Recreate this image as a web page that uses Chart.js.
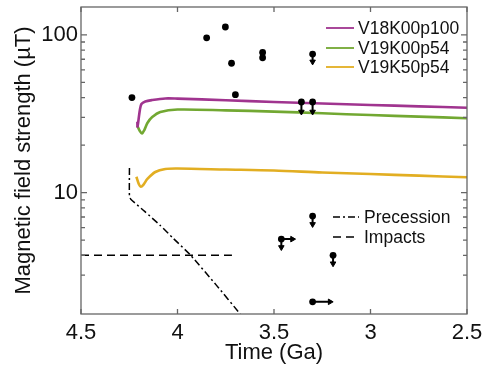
<!DOCTYPE html>
<html><head><meta charset="utf-8">
<script src="https://cdn.jsdelivr.net/npm/chart.js@4/dist/chart.umd.min.js"></script>
<style>html,body{margin:0;padding:0;background:#fff}#w{width:482px;height:372px}</style>
</head><body><div id="w"><canvas id="c" width="482" height="372"></canvas></div>
<script>
// ---- data ----
const xTicks = [4.5, 4, 3.5, 3, 2.5];
const yLabelTicks = [10, 100];
const seriesNames = ['V18K00p100', 'V19K00p54', 'V19K50p54'];
const seriesColors = ['#A0348F', '#72A832', '#E2AE22'];

const purpleX = [4.208, 4.207, 4.195, 4.187, 4.167, 4.131, 4.063, 4.0, 3.75, 3.5, 3.25, 3.0, 2.75, 2.5];
const purpleY = [28.1, 26.2, 33.4, 36.4, 37.8, 38.6, 39.5, 39.4, 38.5, 37.5, 36.7, 35.9, 35.2, 34.5];
const greenX = [4.208, 4.195, 4.184, 4.172, 4.156, 4.131, 4.089, 4.0, 3.75, 3.5, 3.25, 3.0, 2.75, 2.5];
const greenY = [26.5, 24.5, 23.7, 24.9, 27.6, 30.1, 32.4, 33.6, 33.2, 32.6, 31.8, 31.0, 30.3, 29.6];
const goldX = [4.213, 4.2, 4.19, 4.177, 4.156, 4.115, 4.063, 4.0, 3.75, 3.5, 3.25, 3.0, 2.75, 2.5];
const goldY = [12.6, 11.3, 10.9, 11.2, 12.2, 13.5, 14.1, 14.2, 14.0, 13.8, 13.4, 13.1, 12.8, 12.5];

const precessionX = [4.249, 4.249, 4.242, 4.17, 4.09, 4.02, 3.934, 3.80, 3.675];
const precessionY = [14.3, 9.5, 9.08, 7.6, 6.2, 5.1, 4.03, 2.6, 1.70];
const impactsX = [4.5, 3.718];
const impactsY = [4.0, 4.0];

const dotX = [4.236, 3.849, 3.752, 3.72, 3.70, 3.559, 3.559, 3.30, 3.358, 3.30, 3.30, 3.462, 3.194, 3.30];
const dotY = [40, 95.7, 112, 66, 41.7, 77.3, 71.5, 75.5, 37.5, 37.5, 7.1, 5.07, 4.0, 2.03];

// bars
const barFromX = [3.559, 3.30, 3.358, 3.30, 3.30, 3.462, 3.194, 3.462, 3.30];
const barFromY = [77.3, 75.5, 37.5, 37.5, 7.1, 5.07, 4.0, 5.07, 2.03];
const barToX   = [3.559, 3.30, 3.358, 3.30, 3.30, 3.462, 3.194, 3.40, 3.205];
const barToY   = [71.5, 67.5, 32.5, 32.5, 6.3, 4.5, 3.55, 5.07, 2.03];
// arrow heads
const headX = [3.30, 3.358, 3.30, 3.30, 3.462, 3.194, 3.405, 3.21];
const headY = [67.5, 32.5, 32.5, 6.3, 4.5, 3.55, 5.07, 2.03];
const headDir = ['down', 'down', 'down', 'down', 'down', 'down', 'right', 'right'];

// ---- build ----
const pts = (xs, ys) => xs.map((x, i) => ({x: x, y: ys[i]}));
const barData = [];
barFromX.forEach((x, i) => {
  barData.push({x: x, y: barFromY[i]});
  barData.push({x: barToX[i], y: barToY[i]});
  barData.push({x: barToX[i], y: null});
});

const FONT = '"Liberation Sans", Arial, Helvetica, sans-serif';

const framePlugin = {
  id: 'frame',
  afterDraw(chart) {
    const {ctx, chartArea: a, scales} = chart;
    ctx.save();
    ctx.strokeStyle = '#666';
    ctx.lineWidth = 1.3;
    ctx.strokeRect(a.left, a.top, a.right - a.left, a.bottom - a.top);
    scales.x.ticks.forEach(t => {
      const px = scales.x.getPixelForValue(t.value);
      ctx.beginPath();
      ctx.moveTo(px, a.bottom); ctx.lineTo(px, a.bottom - 5);
      ctx.moveTo(px, a.top); ctx.lineTo(px, a.top + 5);
      ctx.stroke();
    });
    scales.y.ticks.forEach(t => {
      const v = t.value;
      const e = Math.pow(10, Math.floor(Math.log10(v) + 1e-9));
      const m = v / e;
      if (Math.abs(m - Math.round(m)) > 1e-6) return;
      const py = scales.y.getPixelForValue(v);
      if (py < a.top + 0.5 || py > a.bottom - 0.5) return;
      const len = Math.round(m) === 1 ? 6 : 4;
      ctx.beginPath();
      ctx.moveTo(a.left, py); ctx.lineTo(a.left + len, py);
      ctx.moveTo(a.right, py); ctx.lineTo(a.right - len, py);
      ctx.stroke();
    });
    ctx.font = '17.5px ' + FONT;
    ctx.textBaseline = 'middle';
    ctx.fillStyle = '#111';
    const ly = [28, 48, 67];
    for (let i = 0; i < 3; i++) {
      const ds = chart.data.datasets[i];
      ctx.strokeStyle = ds.borderColor;
      ctx.lineWidth = 1.8;
      ctx.setLineDash([]);
      ctx.beginPath(); ctx.moveTo(326, ly[i]); ctx.lineTo(354, ly[i]); ctx.stroke();
      ctx.fillText(ds.label, 358, ly[i] + 1);
    }
    const ly2 = [217, 237];
    [3, 4].forEach((di, k) => {
      const ds = chart.data.datasets[di];
      ctx.strokeStyle = '#000';
      ctx.lineWidth = 1.6;
      ctx.setLineDash(ds.borderDash);
      ctx.beginPath(); ctx.moveTo(333, ly2[k]); ctx.lineTo(359, ly2[k]); ctx.stroke();
      ctx.setLineDash([]);
      ctx.fillText(ds.label, 364, ly2[k] + 1);
    });
    ctx.restore();
  }
};

new Chart(document.getElementById('c'), {
  type: 'line',
  data: {
    datasets: [
      {label: seriesNames[0], data: pts(purpleX, purpleY), borderColor: seriesColors[0], borderWidth: 2.6, pointRadius: 0, tension: 0.3, order: 5},
      {label: seriesNames[1], data: pts(greenX, greenY), borderColor: seriesColors[1], borderWidth: 2.6, pointRadius: 0, tension: 0.3, order: 6},
      {label: seriesNames[2], data: pts(goldX, goldY), borderColor: seriesColors[2], borderWidth: 2.6, pointRadius: 0, tension: 0.3, order: 7},
      {label: 'Precession', data: pts(precessionX, precessionY), borderColor: '#000', borderWidth: 1.5, borderDash: [7, 3, 2, 3], pointRadius: 0, tension: 0.2, order: 4},
      {label: 'Impacts', data: pts(impactsX, impactsY), borderColor: '#000', borderWidth: 1.5, borderDash: [8, 5], pointRadius: 0, tension: 0, order: 4},
      {label: 'bars', data: barData, borderColor: '#000', borderWidth: 2, pointRadius: 0, spanGaps: false, tension: 0, order: 2},
      {label: 'heads', data: pts(headX, headY), showLine: false, pointStyle: 'triangle', pointRadius: 3.2,
       pointRotation: headDir.map(d => d === 'down' ? 180 : 90), backgroundColor: '#000', borderColor: '#000', borderWidth: 1, order: 1},
      {label: 'data', data: pts(dotX, dotY), showLine: false, pointRadius: 3.4, backgroundColor: '#000', borderColor: '#000', borderWidth: 0, order: 1}
    ]
  },
  options: {
    responsive: false,
    animation: false,
    layout: {padding: {top: 7, right: 15, left: 0, bottom: 0}},
    plugins: {legend: {display: false}, tooltip: {enabled: false}},
    scales: {
      x: {
        type: 'linear', reverse: true, min: 2.5, max: 4.5,
        afterBuildTicks: s => { s.ticks = xTicks.map(v => ({value: v})); },
        grid: {display: false, drawTicks: false},
        border: {display: false},
        ticks: {font: {family: FONT, size: 22}, color: '#111', padding: 6, maxRotation: 0,
                callback: v => String(v)},
        title: {display: true, text: 'Time (Ga)', font: {family: FONT, size: 22}, color: '#111', padding: {top: 0, bottom: 6}},
        afterFit: s => { s.height = 58; s.paddingLeft = 0; s.paddingRight = 0; }
      },
      y: {
        type: 'logarithmic', min: 1.7, max: 150,
        grid: {display: false, drawTicks: false},
        border: {display: false},
        ticks: {autoSkip: false, font: {family: FONT, size: 22}, color: '#111', padding: 3,
                callback: v => yLabelTicks.includes(v) ? String(v) : ''},
        title: {display: true, text: 'Magnetic field strength (µT)', font: {family: FONT, size: 22}, color: '#111', padding: {top: 11, bottom: 0}},
        afterFit: s => { s.width = 81; s.paddingTop = 0; s.paddingBottom = 0; }
      }
    }
  },
  plugins: [framePlugin]
});
</script>
</body></html>
